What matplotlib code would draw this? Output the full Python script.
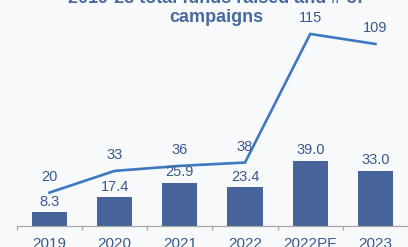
import matplotlib
matplotlib.use("Agg")
import matplotlib.pyplot as plt
import numpy as np

plt.rcParams['font.family'] = ['Liberation Sans', 'DejaVu Sans']

categories = ["2019", "2020", "2021", "2022", "2022PF", "2023"]
funds = [8.3, 17.4, 25.9, 23.4, 39.0, 33.0]
campaigns = [20, 33, 36, 38, 115, 109]
fund_labels = ["8.3", "17.4", "25.9", "23.4", "39.0", "33.0"]
title = "2019-23 total funds raised and # of\ncampaigns"

W, H = 408, 247
bg = "#F8F9FA"
bar_color = "#46639A"
line_color = "#3D78C0"
text_color = "#3A598F"
title_color = "#4A6A9F"

fig = plt.figure(figsize=(W / 100, H / 100), dpi=100, facecolor=bg)
left_px, base_px = 16.9, 21.0
step = 67.2
ax = fig.add_axes([left_px / W, base_px / H, (W - left_px) / W, (H - base_px) / H])
ax.set_facecolor(bg)
x = np.arange(len(categories))
ax.set_xlim(-0.5, -0.5 + (W - left_px) / step)
ax.set_ylim(0, (H - base_px) / 1.67)

ax.bar(x, funds, width=0.54, color=bar_color, zorder=2)
ax.plot(x, campaigns, color=line_color, lw=1.9, zorder=3, solid_joinstyle='miter')

for xi, v, lab in zip(x, funds, fund_labels):
    ax.annotate(lab, (xi, v), xytext=(0, 7.5), textcoords='offset points',
                ha='center', va='center', fontsize=10.5, color=text_color)
for xi, v in zip(x, campaigns):
    ax.annotate(str(v), (xi, v), xytext=(0, 11.5), textcoords='offset points',
                ha='center', va='center', fontsize=10.5, color=text_color)

for s in ['top', 'right', 'left']:
    ax.spines[s].set_visible(False)
ax.spines['bottom'].set_color('#A6A6A6')
ax.spines['bottom'].set_linewidth(0.9)
ax.set_yticks([])
ax.set_xticks(x)
ax.set_xticklabels(categories, fontsize=11, color=text_color)
ax.tick_params(axis='x', which='major', length=0, pad=8)
ax.set_xticks(np.arange(-0.5, len(categories), 1.0), minor=True)
ax.tick_params(axis='x', which='minor', length=3, color='#A6A6A6', width=0.9)

fig.text(216 / W, 1 - 26 / H, title, ha='center', va='bottom', fontsize=13,
         fontweight='bold', color=title_color, linespacing=1.12, multialignment='center')

fig.savefig("out.png", dpi=100, facecolor=bg)
